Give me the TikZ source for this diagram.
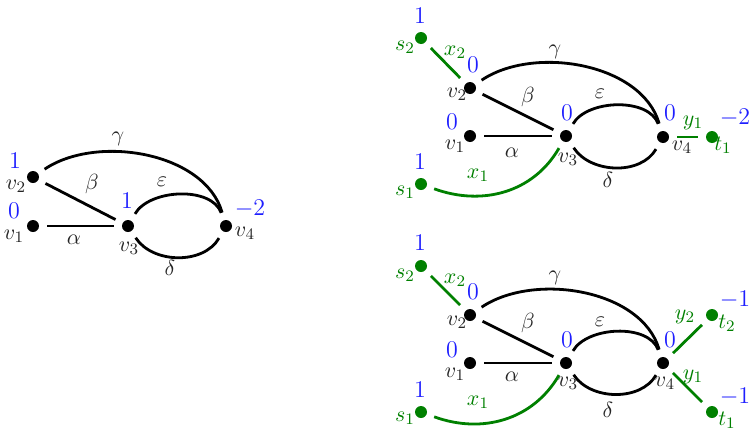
\documentclass[tikz,border=0pt]{standalone}
\usetikzlibrary{calc}
\definecolor{dgreen}{RGB}{0,128,0}
\definecolor{nblue}{RGB}{30,30,255}
\tikzset{
  vdot/.style={circle,fill=black,minimum size=6pt,inner sep=0pt,outer sep=4pt},
  gdot/.style={vdot,fill=dgreen},
  edge/.style={line width=1.4pt},
  gedge/.style={edge,draw=dgreen},
  num/.style={text=nblue,font=\large,inner sep=0pt},
  vl/.style={text=black!85,inner sep=0pt,font=\fontsize{11}{13}\selectfont},
  gl/.style={text=dgreen,inner sep=0pt,font=\fontsize{11}{13}\selectfont},
  gam/.style={out=34,in=106,looseness=0.88},
  eps/.style={out=60,in=110,looseness=0.85},
  del/.style={out=-57,in=-120,looseness=0.95},
}
\begin{document}
\begin{tikzpicture}[x=0.5pt,y=-0.5pt]
\useasboundingbox (0,0) rectangle (756,434);
% ---------- left graph ----------
\begin{scope}
\node[vdot] (a1) at (33,226) {};
\node[vdot] (a2) at (33,177) {};
\node[vdot] (a3) at (128,226) {};
\node[vdot] (a4) at (226,226) {};
\draw[edge] (a1) -- (a3);
\draw[edge] (a2) -- (a3);
\draw[edge] (a2) to[gam] (a4);
\draw[edge] (a3) to[eps] (a4);
\draw[edge] (a3) to[del] (a4);
\node[num] (a2n) at (15,161) {1};
\node[vl] (a2l) at (16,186) {$v_2$};
\node[num] (a1n) at (14,211) {0};
\node[vl] (a1l) at (14,236) {$v_1$};
\node[num] (a3n) at (127,201) {1};
\node[vl] (a3l) at (129,248) {$v_3$};
\node[num] (a4n) at (250,209) {$-2$};
\node[vl] (a4l) at (245,233) {$v_4$};
\node[vl] (aal) at (74,240) {$\alpha$};
\node[vl] (abl) at (92,184) {$\beta$};
\node[vl] (agl) at (118,139) {$\gamma$};
\node[vl] (ael) at (162,182) {$\varepsilon$};
\node[vl] (adl) at (170,268) {$\delta$};
\end{scope}
% ---------- top right graph ----------
\begin{scope}[shift={(437,-90)}]
\node[vdot] (b1) at (33,226) {};
\node[vdot] (b2) at (33,178) {};
\node[vdot] (b3) at (129,226) {};
\node[vdot] (b4) at (226,227) {};
\node[gdot] (bs2) at (-16,128) {};
\node[gdot] (bs1) at (-16,274) {};
\node[gdot] (bt1) at (275,227) {};
\draw[edge] (b1) -- (b3);
\draw[edge] (b2) -- (b3);
\draw[edge] (b2) to[gam] (b4);
\draw[edge] (b3) to[eps] (b4);
\draw[edge] (b3) to[del] (b4);
\draw[gedge] (bs2) -- (b2);
\draw[gedge] (bs1) to[out=-20,in=-120] (b3);
\draw[gedge] (b4) -- (bt1);
\node[num] (b2n) at (36,155) {0};
\node[vl] (b2l) at (20,184) {$v_2$};
\node[num] (b1n) at (15,212) {0};
\node[vl] (b1l) at (18,236) {$v_1$};
\node[num] (b3n) at (130,203) {0};
\node[vl] (b3l) at (131,249) {$v_3$};
\node[num] (b4n) at (233,203) {0};
\node[vl] (b4l) at (245,237) {$v_4$};
\node[num] (bt1n) at (298,208) {$-2$};
\node[gl] (bt1l) at (286,235) {$t_1$};
\node[gl] (by1) at (256,213) {$y_1$};
\node[num] (bs2n) at (-17,106) {1};
\node[gl] (bs2l) at (-32,137) {$s_2$};
\node[gl] (bx2) at (18,142) {$x_2$};
\node[num] (bs1n) at (-17,252) {1};
\node[gl] (bs1l) at (-32,282) {$s_1$};
\node[gl] (bx1) at (41,265) {$x_1$};
\node[vl] (bal) at (75,243) {$\alpha$};
\node[vl] (bbl) at (91,187) {$\beta$};
\node[vl] (bgl) at (118,142) {$\gamma$};
\node[vl] (bel) at (163,184) {$\varepsilon$};
\node[vl] (bdl) at (171,270) {$\delta$};
\end{scope}
% ---------- bottom right graph ----------
\begin{scope}[shift={(437,137)}]
\node[vdot] (c1) at (33,226) {};
\node[vdot] (c2) at (33,178) {};
\node[vdot] (c3) at (129,226) {};
\node[vdot] (c4) at (226,226) {};
\node[gdot] (cs2) at (-16,129) {};
\node[gdot] (cs1) at (-16,275) {};
\node[gdot] (ct2) at (275,178) {};
\node[gdot] (ct1) at (275,275) {};
\draw[edge] (c1) -- (c3);
\draw[edge] (c2) -- (c3);
\draw[edge] (c2) to[gam] (c4);
\draw[edge] (c3) to[eps] (c4);
\draw[edge] (c3) to[del] (c4);
\draw[gedge] (cs2) -- (c2);
\draw[gedge] (cs1) to[out=-20,in=-120] (c3);
\draw[gedge] (c4) -- (ct2);
\draw[gedge] (c4) -- (ct1);
\node[num] (c2n) at (36,155) {0};
\node[vl] (c2l) at (20,185) {$v_2$};
\node[num] (c1n) at (15,213) {0};
\node[vl] (c1l) at (18,237) {$v_1$};
\node[num] (c3n) at (130,203) {0};
\node[vl] (c3l) at (131,246) {$v_3$};
\node[num] (c4n) at (233,203) {0};
\node[vl] (c4l) at (228,246) {$v_4$};
\node[num] (ct2n) at (298,163) {$-1$};
\node[gl] (ct2l) at (290,186) {$t_2$};
\node[gl] (cy2) at (248,180) {$y_2$};
\node[gl] (cy1) at (256,240) {$y_1$};
\node[num] (ct1n) at (298,260) {$-1$};
\node[gl] (ct1l) at (290,283) {$t_1$};
\node[num] (cs2n) at (-17,106) {1};
\node[gl] (cs2l) at (-32,138) {$s_2$};
\node[gl] (cx2) at (18,143) {$x_2$};
\node[num] (cs1n) at (-17,253) {1};
\node[gl] (cs1l) at (-32,281) {$s_1$};
\node[gl] (cx1) at (41,265) {$x_1$};
\node[vl] (cal) at (75,240) {$\alpha$};
\node[vl] (cbl) at (91,186) {$\beta$};
\node[vl] (cgl) at (118,141) {$\gamma$};
\node[vl] (cel) at (163,185) {$\varepsilon$};
\node[vl] (cdl) at (171,273) {$\delta$};
\end{scope}
\end{tikzpicture}
\end{document}
